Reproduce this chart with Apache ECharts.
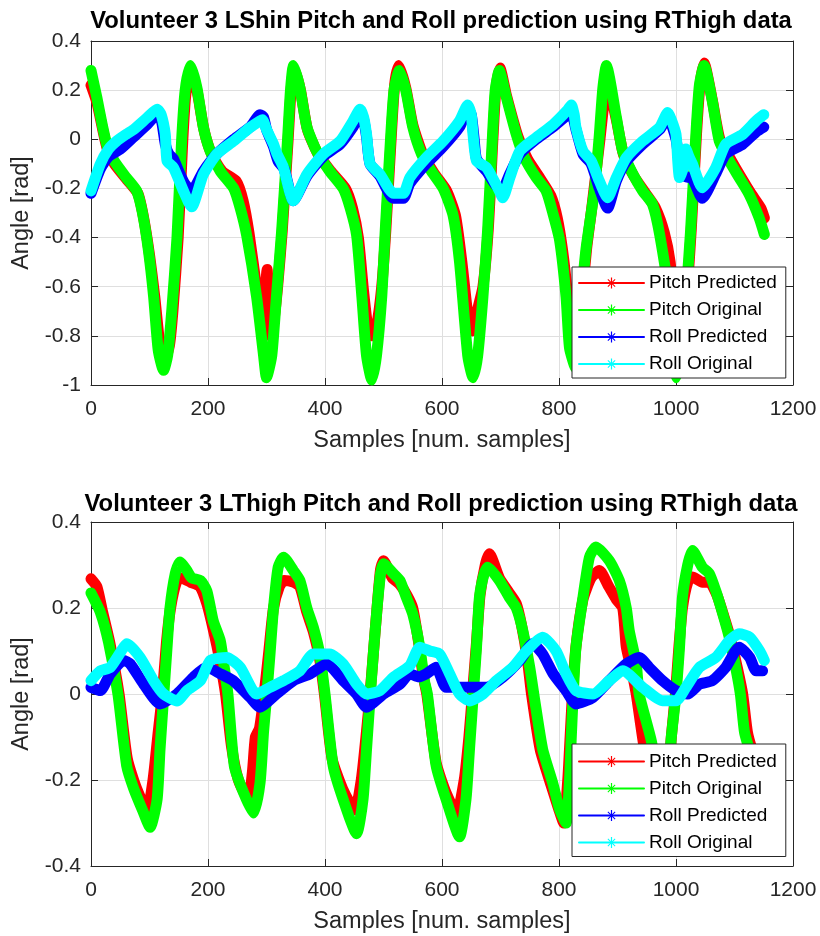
<!DOCTYPE html>
<html><head><meta charset="utf-8">
<script src="https://cdn.jsdelivr.net/npm/echarts@6/dist/echarts.min.js"></script>
<style>html,body{margin:0;padding:0;background:#fff}#c{width:820px;height:936px}</style>
</head><body><div id="c"></div>
<script>
// ---------- Data (sample index, angle in rad) ----------
const seriesNames = ['Pitch Predicted', 'Pitch Original', 'Roll Predicted', 'Roll Original'];
const titles = ['Volunteer 3 LShin Pitch and Roll prediction using RThigh data',
                'Volunteer 3 LThigh Pitch and Roll prediction using RThigh data'];
const xTicks = [0, 200, 400, 600, 800, 1000, 1200];
const yTicksTop = [-1, -0.8, -0.6, -0.4, -0.2, 0, 0.2, 0.4];
const yTicksBottom = [-0.4, -0.2, 0, 0.2, 0.4];

// LShin
const shinPitchPredicted = [[0,0.22],[10,0.15],[20,0.04],[28,-0.04],[40,-0.1],[60,-0.16],[80,-0.22],[90,-0.32],[100,-0.47],[109,-0.64],[118,-0.84],[126,-0.9],[134,-0.84],[140,-0.7],[149,-0.4],[157,0],[162,0.18],[170,0.28],[181,0.2],[193,0.04],[206,-0.06],[224,-0.13],[248,-0.17],[260,-0.25],[270,-0.38],[285,-0.64],[293,-0.8],[298,-0.62],[301,-0.53],[304,-0.66],[307,-0.8],[312,-0.75],[319,-0.6],[327,-0.37],[337,0],[342,0.2],[347,0.29],[358,0.2],[370,0.04],[388,-0.06],[410,-0.13],[435,-0.2],[447,-0.28],[457,-0.4],[466,-0.62],[474,-0.78],[480,-0.8],[488,-0.76],[497,-0.6],[504,-0.37],[513,0],[519,0.22],[526,0.3],[538,0.21],[550,0.06],[567,-0.06],[587,-0.14],[608,-0.21],[623,-0.31],[634,-0.5],[646,-0.75],[652,-0.78],[660,-0.7],[670,-0.6],[679,-0.37],[687,0],[692,0.2],[699,0.29],[710,0.18],[730,0.01],[746,-0.08],[768,-0.16],[786,-0.23],[797,-0.32],[806,-0.45],[814,-0.62],[822,-0.85],[829,-0.9],[837,-0.7],[847,-0.45],[856,-0.28],[870,0],[877,0.15],[883,0.22],[898,0.08],[910,-0.06],[928,-0.15],[948,-0.22],[965,-0.28],[980,-0.38],[990,-0.5],[997,-0.7],[1002,-0.8],[1009,-0.82],[1018,-0.64],[1026,-0.37],[1035,0.02],[1041,0.22],[1048,0.31],[1062,0.16],[1075,0],[1093,-0.08],[1110,-0.15],[1128,-0.22],[1145,-0.28],[1151,-0.32]];
const shinPitchOriginal = [[0,0.28],[10,0.17],[20,0.05],[28,-0.03],[40,-0.09],[60,-0.155],[78,-0.21],[88,-0.3],[98,-0.45],[107,-0.64],[115,-0.86],[124,-0.94],[131,-0.88],[138,-0.7],[147,-0.4],[155,0],[161,0.2],[170,0.3],[181,0.21],[192,0.05],[204,-0.05],[221,-0.13],[244,-0.2],[255,-0.28],[266,-0.39],[283,-0.64],[295,-0.88],[300,-0.97],[309,-0.88],[317,-0.64],[326,-0.37],[336,0],[341,0.2],[346,0.3],[357,0.21],[369,0.05],[386,-0.05],[408,-0.13],[431,-0.2],[443,-0.28],[454,-0.39],[463,-0.64],[471,-0.88],[480,-0.98],[488,-0.88],[497,-0.64],[503,-0.37],[512,0],[518,0.2],[527,0.28],[538,0.2],[550,0.05],[565,-0.06],[582,-0.13],[602,-0.2],[619,-0.31],[630,-0.5],[644,-0.88],[653,-0.97],[661,-0.88],[670,-0.64],[678,-0.37],[686,0],[691,0.2],[698,0.28],[709,0.18],[727,0.02],[741,-0.075],[761,-0.156],[778,-0.21],[790,-0.305],[801,-0.41],[812,-0.64],[818,-0.85],[828,-0.93],[836,-0.7],[846,-0.45],[855,-0.3],[861,-0.2],[869,0.02],[875,0.21],[881,0.3],[898,0.09],[909,-0.05],[926,-0.14],[943,-0.21],[960,-0.265],[972,-0.387],[988,-0.64],[994,-0.88],[1000,-0.97],[1008,-0.88],[1017,-0.64],[1025,-0.37],[1034,0.02],[1040,0.22],[1048,0.3],[1062,0.156],[1074,-0.007],[1091,-0.088],[1108,-0.156],[1125,-0.224],[1142,-0.319],[1151,-0.387]];
const shinRollPredicted = [[0,-0.22],[16,-0.12],[30,-0.07],[50,-0.04],[73,0.01],[96,0.06],[113,0.1],[120,0.08],[127,-0.02],[133,-0.06],[141,-0.08],[150,-0.13],[160,-0.18],[172,-0.21],[192,-0.13],[215,-0.06],[244,0],[272,0.05],[289,0.1],[295,0.09],[300,0.04],[312,-0.03],[320,-0.09],[330,-0.12],[346,-0.25],[369,-0.15],[397,-0.07],[426,-0.02],[448,0.05],[460,0.1],[466,0.08],[471,0.01],[477,-0.1],[494,-0.15],[517,-0.24],[534,-0.24],[545,-0.18],[573,-0.1],[602,-0.03],[630,0.05],[644,0.12],[650,0.1],[655,0],[659,-0.08],[676,-0.13],[698,-0.2],[704,-0.2],[716,-0.14],[733,-0.06],[761,0],[790,0.05],[815,0.1],[821,0.11],[829,0.04],[841,-0.06],[855,-0.1],[869,-0.2],[883,-0.28],[898,-0.17],[915,-0.09],[943,-0.02],[972,0.04],[986,0.09],[1000,0],[1006,-0.1],[1015,-0.15],[1028,-0.16],[1045,-0.24],[1068,-0.14],[1085,-0.06],[1114,-0.02],[1137,0.03],[1150,0.05]];
const shinRollOriginal = [[0,-0.21],[16,-0.1],[30,-0.04],[44,-0.007],[60,0.02],[73,0.04],[96,0.088],[113,0.122],[120,0.1],[127,0.02],[130,-0.088],[141,-0.115],[158,-0.21],[172,-0.275],[192,-0.143],[215,-0.06],[244,-0.007],[272,0.048],[289,0.075],[293,0.08],[300,0.04],[312,-0.02],[318,-0.06],[329,-0.115],[346,-0.25],[369,-0.143],[397,-0.06],[426,-0.007],[448,0.075],[460,0.122],[466,0.09],[471,0.02],[477,-0.1],[494,-0.143],[517,-0.22],[534,-0.22],[545,-0.156],[573,-0.075],[602,-0.007],[630,0.075],[644,0.14],[650,0.1],[653,0.02],[659,-0.088],[676,-0.115],[698,-0.21],[704,-0.238],[716,-0.156],[733,-0.048],[761,0.007],[790,0.06],[815,0.12],[821,0.14],[826,0.1],[829,0.048],[841,-0.048],[855,-0.088],[869,-0.17],[883,-0.238],[898,-0.156],[915,-0.075],[943,-0.007],[972,0.048],[986,0.109],[992,0.08],[1000,0.02],[1003,-0.088],[1006,-0.156],[1012,-0.12],[1017,-0.04],[1022,-0.07],[1028,-0.1],[1045,-0.197],[1068,-0.115],[1085,-0.02],[1114,0.02],[1137,0.075],[1150,0.1]];

// LThigh
const thighPitchPredicted = [[0,0.268],[10,0.25],[20,0.19],[32,0.12],[48,0],[62,-0.15],[78,-0.22],[96,-0.27],[106,-0.2],[114,-0.1],[122,0],[129,0.12],[136,0.2],[146,0.26],[154,0.27],[170,0.26],[186,0.25],[198,0.21],[209,0.15],[220,0.08],[230,0],[240,-0.12],[252,-0.2],[269,-0.245],[276,-0.18],[281,-0.1],[288,-0.08],[296,0],[304,0.1],[312,0.2],[322,0.25],[330,0.264],[346,0.26],[357,0.25],[369,0.19],[380,0.145],[391,0.08],[399,0],[412,-0.15],[430,-0.22],[451,-0.27],[462,-0.2],[470,-0.1],[477,0],[483,0.1],[489,0.2],[495,0.29],[500,0.31],[515,0.27],[528,0.255],[540,0.23],[550,0.2],[560,0.12],[568,0.04],[574,0],[590,-0.16],[607,-0.23],[625,-0.277],[638,-0.2],[646,-0.1],[652,0],[659,0.12],[665,0.23],[674,0.3],[681,0.326],[698,0.27],[715,0.235],[727,0.21],[736,0.16],[746,0.08],[753,0],[768,-0.13],[786,-0.21],[800,-0.27],[808,-0.3],[815,-0.2],[819,-0.1],[823,0],[829,0.11],[841,0.22],[855,0.27],[869,0.287],[885,0.25],[898,0.22],[909,0.2],[915,0.11],[925,0.05],[932,0],[945,-0.12],[960,-0.22],[975,-0.29],[986,-0.2],[992,-0.1],[999,0],[1005,0.11],[1011,0.2],[1020,0.26],[1028,0.272],[1045,0.26],[1057,0.26],[1070,0.23],[1082,0.18],[1093,0.13],[1105,0.06],[1114,0],[1122,-0.088],[1130,-0.128],[1150,-0.2]];
const thighPitchOriginal = [[0,0.235],[16,0.19],[30,0.12],[46,0],[61,-0.167],[73,-0.22],[88,-0.27],[101,-0.31],[113,-0.245],[118,-0.128],[124,-0.01],[130,0.109],[135,0.2],[144,0.28],[152,0.307],[164,0.287],[172,0.27],[187,0.264],[198,0.24],[209,0.17],[221,0.124],[228,0.06],[234,0],[245,-0.167],[261,-0.23],[278,-0.277],[289,-0.206],[295,-0.087],[300,-0.01],[306,0.093],[312,0.2],[320,0.295],[329,0.318],[346,0.287],[357,0.264],[369,0.2],[380,0.155],[391,0.093],[400,0],[414,-0.167],[431,-0.245],[454,-0.325],[465,-0.245],[471,-0.128],[477,-0.01],[483,0.1],[489,0.2],[495,0.28],[500,0.303],[517,0.28],[528,0.264],[539,0.225],[550,0.186],[562,0.109],[570,0.03],[575,0],[590,-0.167],[607,-0.245],[630,-0.332],[641,-0.245],[647,-0.128],[653,-0.01],[659,0.109],[664,0.225],[672,0.28],[678,0.295],[698,0.264],[715,0.225],[727,0.2],[738,0.148],[750,0.062],[758,-0.01],[772,-0.128],[789,-0.206],[801,-0.268],[812,-0.3],[818,-0.2],[821,-0.1],[824,-0.01],[829,0.109],[841,0.225],[852,0.318],[863,0.342],[886,0.31],[903,0.264],[915,0.2],[920,0.148],[932,0.07],[937,0],[958,-0.11],[970,-0.22],[980,-0.29],[986,-0.2],[992,-0.1],[1000,0],[1006,0.109],[1011,0.225],[1020,0.3],[1028,0.334],[1045,0.295],[1057,0.28],[1068,0.24],[1080,0.186],[1091,0.132],[1102,0.062],[1110,0],[1117,-0.088],[1125,-0.128],[1140,-0.2],[1150,-0.24]];
const thighRollPredicted = [[0,0.0155],[16,0.008],[33,0.047],[56,0.078],[67,0.07],[90,0.023],[118,-0.023],[147,0],[175,0.039],[198,0.062],[221,0.047],[243,0.031],[272,-0.008],[289,-0.031],[317,0],[346,0.031],[375,0.047],[403,0.07],[431,0.031],[454,0],[471,-0.031],[500,0],[528,0.023],[545,0.047],[560,0.04],[573,0.047],[590,0.062],[607,0.0155],[636,0.0155],[676,0.0155],[704,0.039],[733,0.078],[755,0.117],[772,0.093],[790,0.047],[812,0.008],[829,-0.023],[858,-0.008],[886,0.031],[915,0.07],[937,0.085],[954,0.062],[977,0.031],[1000,0.008],[1020,0],[1040,0.023],[1062,0.031],[1085,0.062],[1108,0.109],[1126,0.085],[1137,0.054],[1148,0.054]];
const thighRollOriginal = [[0,0.031],[16,0.054],[33,0.062],[56,0.109],[61,0.117],[84,0.085],[107,0.031],[124,0],[147,-0.016],[164,0.008],[187,0.031],[204,0.078],[232,0.085],[255,0.062],[283,0],[306,0.0155],[329,0.031],[357,0.054],[380,0.093],[408,0.093],[431,0.07],[454,0.023],[471,0],[494,0.008],[517,0.039],[545,0.066],[562,0.109],[579,0.1],[596,0.093],[613,0.047],[630,0],[647,-0.016],[670,0],[693,0.031],[721,0.062],[744,0.1],[772,0.132],[795,0.1],[812,0.047],[829,0.008],[858,0],[886,0.031],[909,0.054],[943,0.0155],[977,-0.0155],[1000,-0.0155],[1017,0.0155],[1040,0.062],[1068,0.085],[1091,0.124],[1108,0.14],[1126,0.132],[1143,0.1],[1151,0.078]];

// ---------- Chart ----------
const FONT = '"Liberation Sans", Arial, Helvetica, sans-serif';
const AX = '#262626';
const GRIDC = '#dfdfdf';
const colors = ['#ff0000', '#00ff00', '#0000ff', '#00ffff'];
const STAR = 'path://M6.25,0h1.5v14h-1.5z M0,6.25h14v1.5h-14z M2,2.9L2.9,2L12,11.1L11.1,12Z M11.1,2L12,2.9L2.9,12L2,11.1Z';
const grids = [{left: 91, top: 41, width: 702, height: 344}, {left: 91, top: 522, width: 702, height: 344}];
const yRanges = [yTicksTop, yTicksBottom];
const dataSets = [
  [shinPitchPredicted, shinPitchOriginal, shinRollPredicted, shinRollOriginal],
  [thighPitchPredicted, thighPitchOriginal, thighRollPredicted, thighRollOriginal]
];

const fmtY = v => String(+Number(v).toFixed(1));
const fmtX = v => String(Math.round(v));
const xAxes = [], yAxes = [], series = [], legends = [], titleOpts = [];
[0, 1].forEach(g => {
  const xmin = xTicks[0], xmax = xTicks[xTicks.length - 1], xint = xTicks[1] - xTicks[0];
  const yt = yRanges[g];
  const ymin = yt[0], ymax = yt[yt.length - 1];
  xAxes.push({
    type: 'value', gridIndex: g, position: 'bottom', min: xmin, max: xmax, interval: xint,
    name: 'Samples [num. samples]', nameLocation: 'middle', nameGap: 44,
    nameTextStyle: {fontFamily: FONT, fontSize: 23.5, color: AX},
    axisLine: {show: true, onZero: false, lineStyle: {color: AX, width: 1}},
    axisTick: {show: true, inside: true, length: 7, lineStyle: {color: AX}},
    axisLabel: {fontFamily: FONT, fontSize: 21, color: AX, margin: 14, formatter: fmtX},
    splitLine: {show: true, lineStyle: {color: GRIDC, width: 1}}
  });
  xAxes.push({
    type: 'value', gridIndex: g, position: 'top', min: xmin, max: xmax, interval: xint,
    axisLine: {show: true, onZero: false, lineStyle: {color: AX, width: 1}},
    axisTick: {show: true, inside: true, length: 7, lineStyle: {color: AX}},
    axisLabel: {show: false}, splitLine: {show: false}
  });
  yAxes.push({
    type: 'value', gridIndex: g, position: 'left', min: ymin, max: ymax, interval: 0.2,
    name: 'Angle [rad]', nameLocation: 'middle', nameGap: 55,
    nameTextStyle: {fontFamily: FONT, fontSize: 23.5, color: AX},
    axisLine: {show: true, onZero: false, lineStyle: {color: AX, width: 1}},
    axisTick: {show: true, inside: true, length: 7, lineStyle: {color: AX}},
    axisLabel: {fontFamily: FONT, fontSize: 21, color: AX, margin: 10, formatter: fmtY},
    splitLine: {show: true, lineStyle: {color: GRIDC, width: 1}}
  });
  yAxes.push({
    type: 'value', gridIndex: g, position: 'right', min: ymin, max: ymax, interval: 0.2,
    axisLine: {show: true, onZero: false, lineStyle: {color: AX, width: 1}},
    axisTick: {show: true, inside: true, length: 7, lineStyle: {color: AX}},
    axisLabel: {show: false}, splitLine: {show: false}
  });
  seriesNames.forEach((n, i) => {
    series.push({
      type: 'line', name: n, data: dataSets[g][i],
      xAxisIndex: g * 2, yAxisIndex: g * 2,
      symbol: STAR, symbolSize: 10, showSymbol: false,
      smooth: 0.2,
      color: colors[i],
      lineStyle: {width: 11, color: colors[i], join: 'round', cap: 'round'},
      itemStyle: {color: colors[i]},
      silent: true, animation: false, z: 2
    });
  });
  legends.push({
    show: true, orient: 'vertical', left: 572, top: g ? 744 : 267,
    padding: [g ? 8 : 6.5, 9, 4.5, 6],
    itemWidth: 65, itemHeight: 14, itemGap: 8, itemTextGap: 5,
    backgroundColor: '#ffffff', borderColor: AX, borderWidth: 1, borderRadius: 0,
    textStyle: {fontFamily: FONT, fontSize: 19, color: '#000', lineHeight: 19},
    lineStyle: {width: 2}, itemStyle: {borderWidth: 0},
    selectedMode: false, z: 10,
    data: seriesNames
  });
  titleOpts.push({
    text: titles[g], left: 441, top: g ? 492 : 9, padding: 0,
    textAlign: 'center', textVerticalAlign: 'top',
    textStyle: {fontFamily: FONT, fontSize: 23.8, fontWeight: 'bold', color: '#000', lineHeight: 24}
  });
});

const chart = echarts.init(document.getElementById('c'), null, {renderer: 'canvas'});
chart.setOption({
  backgroundColor: '#ffffff',
  animation: false,
  title: titleOpts,
  grid: grids,
  xAxis: xAxes,
  yAxis: yAxes,
  legend: legends,
  series: series
});
</script>
</body></html>
